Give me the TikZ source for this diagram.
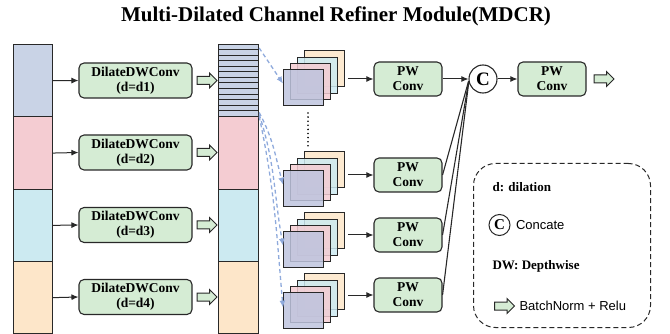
\documentclass[tikz,border=0pt]{standalone}
\usepackage{fontspec}
\setmainfont{Liberation Serif}
\setsansfont{Liberation Sans}
\usetikzlibrary{shapes.arrows,arrows.meta}
\definecolor{cblue}{RGB}{201,211,230}
\definecolor{cpink}{RGB}{244,204,210}
\definecolor{ccyan}{RGB}{204,234,241}
\definecolor{corange}{RGB}{253,230,201}
\definecolor{cgreen}{RGB}{213,236,212}
\definecolor{cfront}{RGB}{190,196,222}
\definecolor{cdash}{RGB}{143,170,220}
\definecolor{cline}{RGB}{40,40,40}
% stack of four feature maps: #1 suffix, #2 #3 top left of the front map
\newcommand{\fmstack}[3]{%
	\node[fm,fill=corange] (o#1) at (#2+21,#3-19) {};
	\node[fm,fill=ccyan] (c#1) at (#2+14,#3-12) {};
	\node[fm,fill=cpink] (k#1) at (#2+7,#3-6) {};
	\node[fm,fill=cfront] (m#1) at (#2,#3) {};
}
\begin{document}
\begin{tikzpicture}[x=1pt,y=-1pt,
	seg/.style={draw=cline,line width=1.2pt,minimum width=39pt,minimum height=72.3pt,inner sep=0pt,anchor=north west},
	blk/.style={draw=cline,fill=cgreen,rounded corners=5pt,line width=1.1pt,minimum width=113pt,minimum height=35pt,inner sep=1pt,align=center,font=\bfseries\fontsize{13.5}{15}\selectfont},
	pw/.style={blk,minimum width=68pt,minimum height=34pt},
	harr/.style={single arrow,draw=cline,fill=cgreen,line width=1pt,minimum height=20pt,inner xsep=0pt,inner ysep=3.5pt,text height=0pt,text depth=0pt,single arrow head extend=3.5pt},
	fm/.style={draw=cline,line width=1.2pt,minimum width=40pt,minimum height=36pt,inner sep=0pt,anchor=north west,fill opacity=.85},
	arr/.style={-{Latex[length=7pt,width=6pt]},line width=1pt,cline},
	dsh/.style={-{Latex[length=7pt,width=6pt]},cdash,line width=1.3pt,dash pattern=on 4pt off 3pt},
	txt/.style={anchor=west,font=\bfseries\fontsize{13}{15}\selectfont}]
	\useasboundingbox (0,0) rectangle (670,334);

	\node[font=\bfseries\fontsize{21}{24}\selectfont] (title) at (336,16) {Multi-Dilated Channel Refiner Module(MDCR)};

	% input channels
	\node[seg,fill=cblue] (s1) at (13,44) {};
	\node[seg,fill=cpink] (s2) at (13,116.3) {};
	\node[seg,fill=ccyan] (s3) at (13,188.6) {};
	\node[seg,fill=corange] (s4) at (13,260.9) {};

	\node[blk] (d1) at (135.5,80.5) {DilateDWConv\\(d=d1)};
	\node[blk] (d2) at (135.5,152.5) {DilateDWConv\\(d=d2)};
	\node[blk] (d3) at (135.5,225) {DilateDWConv\\(d=d3)};
	\node[blk] (d4) at (135.5,297) {DilateDWConv\\(d=d4)};
	\draw[arr] (s1.east) -- (d1.west);
	\draw[arr] (s2.east) -- (d2.west);
	\draw[arr] (s3.east) -- (d3.west);
	\draw[arr] (s4.east) -- (d4.west);
	\node[harr] (h1) at (205,80.5) {};
	\node[harr] (h2) at (205,152.5) {};
	\node[harr] (h3) at (205,225) {};
	\node[harr] (h4) at (205,297) {};

	% refined channels
	\node[seg,fill=cblue,minimum width=40pt] (t1) at (218,44) {};
	\node[seg,fill=cpink,minimum width=40pt] (t2) at (218,116.3) {};
	\node[seg,fill=ccyan,minimum width=40pt] (t3) at (218,188.6) {};
	\node[seg,fill=corange,minimum width=40pt] (t4) at (218,260.9) {};
	\foreach \k in {1,...,12}
		\draw[cline,line width=1pt] (t1.north west) ++(0,{\k*5.56}) -- ++(40,0);

	\fmstack{1}{283}{69}
	\fmstack{2}{283}{170}
	\fmstack{3}{283}{231}
	\fmstack{4}{283}{292}
	\coordinate (v1) at (308,113);
	\coordinate (v2) at (308,146);
	\draw[line width=1.8pt,line cap=round,dash pattern=on 0pt off 4.1pt] (v1) -- (v2);

	\draw[dsh] ([yshift=-4pt]t1.north east) -- ([yshift=4pt]m1.west);
	\draw[dsh] ([yshift=5pt]t1.south east) to[out=-62,in=105] ([yshift=4pt]m2.west);
	\draw[dsh] ([yshift=3pt]t1.south east) to[out=-72,in=100] ([yshift=4pt]m3.west);
	\draw[dsh] ([yshift=1pt]t1.south east) to[out=-78,in=95] ([yshift=3pt]m4.west);

	% pointwise convs
	\node[pw] (p1) at (408,79) {PW\\Conv};
	\node[pw] (p2) at (408,175) {PW\\Conv};
	\node[pw] (p3) at (408,235) {PW\\Conv};
	\node[pw] (p4) at (408,295) {PW\\Conv};
	\draw[arr,shorten <=3pt] (o1.east |- p1.west) -- (p1.west);
	\draw[arr,shorten <=3pt] (o2.east |- p2.west) -- (p2.west);
	\draw[arr,shorten <=3pt] (o3.east |- p3.west) -- (p3.west);
	\draw[arr,shorten <=3pt] (o4.east |- p4.west) -- (p4.west);

	\node[circle,draw=cline,line width=1.1pt,minimum size=28pt,inner sep=0pt,font=\bfseries\fontsize{19}{19}\selectfont] (cc) at (483,79) {C};
	\draw[arr] (p1.east) -- (cc.west);
	\draw[cline,line width=1.1pt] (p2.east) -- (cc.188);
	\draw[cline,line width=1.1pt] (p3.east) -- (cc.190);
	\draw[cline,line width=1.1pt] (p4.east) -- (cc.192);
	\node[pw] (po) at (552,79) {PW\\Conv};
	\draw[arr] (cc.east) -- (po.west);
	\node[harr] (ho) at (602,79) {};

	% legend
	\node[draw=cline,line width=1pt,dash pattern=on 5pt off 3pt,rounded corners=22pt,minimum width=177pt,minimum height=164pt,anchor=north west] (lg) at (473,163) {};
	\node[txt] (l1) at (489,187) {d: dilation};
	\node[circle,draw=cline,line width=1pt,minimum size=21pt,inner sep=0pt,font=\bfseries\fontsize{15}{15}\selectfont] (l2) at (499.5,225) {C};
	\node[anchor=west,font=\sffamily\fontsize{13}{15}\selectfont] (l3) at ([xshift=2pt]l2.east) {Concate};
	\node[txt] (l4) at (489,266) {DW: Depthwise};
	\node[harr] (l5) at (502.5,306) {};
	\node[anchor=west,font=\sffamily\fontsize{13}{15}\selectfont] (l6) at (516,306) {BatchNorm + Relu};
\end{tikzpicture}
\end{document}
